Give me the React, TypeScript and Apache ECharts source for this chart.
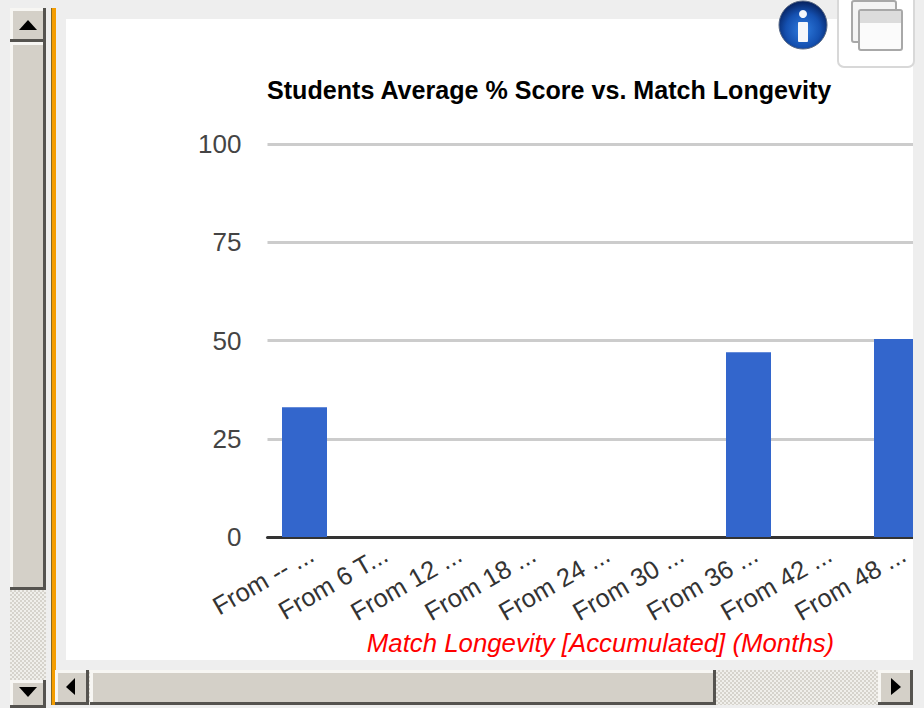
import React, { useEffect, useRef } from "react";
import * as echarts from "echarts";

const categories = ["From -- ...", "From 6 T...", "From 12 ...", "From 18 ...", "From 24 ...", "From 30 ...", "From 36 ...", "From 42 ...", "From 48 ..."];
const scores = [33, 0, 0, 0, 0, 0, 47, 0, 50.4];
const yTicks = [0, 25, 50, 75, 100];

const bevel = (x: number, y: number, w: number, h: number) => [
  { type: "rect", z: 100, shape: { x, y, width: w, height: h }, style: { fill: "#55534f" } },
  { type: "rect", z: 100, shape: { x, y, width: w - 3, height: h - 3 }, style: { fill: "#f7f6f3" } },
  { type: "rect", z: 100, shape: { x: x + 3, y: y + 3, width: w - 6, height: h - 6 }, style: { fill: "#d4d0c8" } },
];
const arrow = (points: number[][]) => ({ type: "polygon", z: 101, shape: { points }, style: { fill: "#000" } });

const ditherTile = () => {
  const c = document.createElement("canvas");
  c.width = 4;
  c.height = 4;
  const g = c.getContext("2d")!;
  g.fillStyle = "#f0efeb";
  g.fillRect(0, 0, 4, 4);
  g.fillStyle = "#d6d3cc";
  g.fillRect(0, 0, 2, 2);
  g.fillRect(2, 2, 2, 2);
  return c;
};

export default function App() {
  const ref = useRef<HTMLDivElement>(null);
  useEffect(() => {
    document.body.style.margin = "0";
    const chart = echarts.init(ref.current!, null, { renderer: "svg" });
    const track = { image: ditherTile(), repeat: "repeat" };
    chart.setOption({
      animation: false,
      backgroundColor: "#eeeeee",
      title: {
        text: "Students Average % Score vs. Match Longevity",
        left: 267,
        top: 77,
        padding: 0,
        textStyle: { fontFamily: "Liberation Sans", fontSize: 25.1, fontWeight: "bold", color: "#000" },
      },
      grid: { left: 267.5, top: 144, width: 666, height: 393, outerBoundsMode: "none" },
      xAxis: {
        type: "category",
        data: categories,
        axisTick: { show: false },
        axisLine: { show: true, lineStyle: { color: "#333", width: 3 } },
        axisLabel: {
          rotate: 30, interval: 0, margin: 3, verticalAlign: "top", lineHeight: 28,
          fontFamily: "Liberation Sans", fontSize: 25.5, color: "#333",
        },
        name: "Match Longevity [Accumulated] (Months)",
        nameLocation: "middle",
        nameGap: 93,
        nameMoveOverlap: false,
        nameTextStyle: { fontFamily: "Liberation Sans", fontSize: 25.8, fontStyle: "italic", color: "#ff0000" },
      },
      yAxis: {
        type: "value",
        min: 0,
        max: 100,
        interval: yTicks[1] - yTicks[0],
        axisLine: { show: false },
        axisTick: { show: false },
        splitLine: { lineStyle: { color: "#cccccc", width: 3 } },
        axisLabel: { margin: 26, fontFamily: "Liberation Sans", fontSize: 26, color: "#444" },
      },
      series: [{ type: "bar", data: scores, barWidth: 45, itemStyle: { color: "#3366cc" } }],
      graphic: {
        elements: [
          { type: "rect", z: -1, shape: { x: 66, y: 19, width: 847, height: 641 }, style: { fill: "#fff" } },
          { type: "rect", z: 100, shape: { x: 913, y: 68, width: 11, height: 640 }, style: { fill: "#eeeeee" } },
          // vertical scrollbar
          { type: "rect", z: 99, shape: { x: 10, y: 8, width: 36, height: 700 }, style: { fill: track } },
          ...bevel(10, 8, 36, 34),
          arrow([[19, 30], [37, 30], [28, 20]]),
          ...bevel(10, 42, 36, 548),
          ...bevel(10, 680, 36, 28),
          arrow([[19, 687], [37, 687], [28, 697]]),
          // divider
          { type: "rect", z: 100, shape: { x: 51, y: 8, width: 5, height: 697 }, style: { fill: "#f59d00" } },
          { type: "rect", z: 100, shape: { x: 51, y: 8, width: 1, height: 697 }, style: { fill: "#8a6a20" } },
          // horizontal scrollbar
          { type: "rect", z: 99, shape: { x: 56, y: 670, width: 857, height: 35 }, style: { fill: track } },
          ...bevel(55, 670, 34, 35),
          arrow([[75, 678], [75, 695], [66, 687]]),
          ...bevel(90, 670, 626, 35),
          ...bevel(878, 670, 35, 35),
          arrow([[891, 678], [891, 695], [901, 687]]),
          // info icon
          {
            type: "circle", z: 100, shape: { cx: 803, cy: 25, r: 24 },
            style: {
              fill: new echarts.graphic.RadialGradient(0.5, 0.6, 0.6, [
                { offset: 0, color: "#2f7de0" },
                { offset: 0.6, color: "#1450b0" },
                { offset: 1, color: "#06205c" },
              ]),
              stroke: "#5a6a85", lineWidth: 1,
            },
          },
          { type: "circle", z: 101, shape: { cx: 803, cy: 14, r: 4 }, style: { fill: "#f4f7fb" } },
          { type: "rect", z: 101, shape: { x: 798, y: 22, width: 10, height: 20, r: 1 }, style: { fill: "#f4f7fb" } },
          // window button
          { type: "rect", z: 100, shape: { x: 838, y: -8, width: 76, height: 75, r: 6 }, style: { fill: "#fff", stroke: "#d8d8d8", lineWidth: 2 } },
          { type: "rect", z: 101, shape: { x: 852, y: 1, width: 44, height: 41, r: 2 }, style: { fill: "#f4f4f4", stroke: "#a8a8a8", lineWidth: 2 } },
          { type: "rect", z: 102, shape: { x: 859, y: 10, width: 43, height: 40, r: 2 }, style: { fill: "#fbfbfb", stroke: "#a8a8a8", lineWidth: 2 } },
          { type: "rect", z: 103, shape: { x: 860, y: 11, width: 41, height: 12 }, style: { fill: "#dcdcdc" } },
        ],
      },
    });
    return () => chart.dispose();
  }, []);
  return <div ref={ref} style={{ position: "absolute", left: 0, top: 0, width: 924, height: 708 }} />;
}
